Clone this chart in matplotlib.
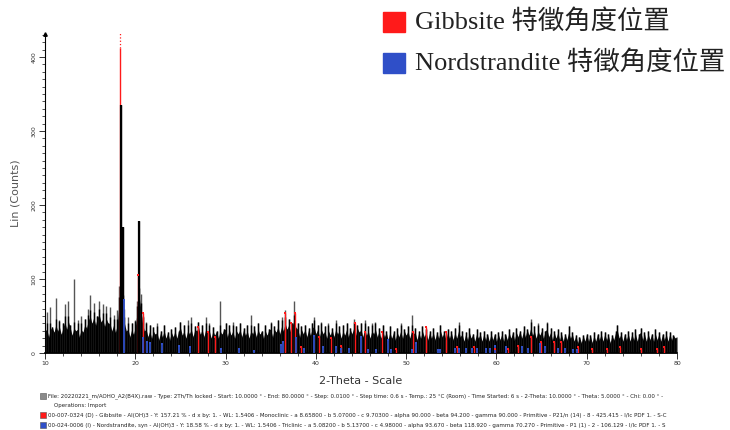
import numpy as np
import matplotlib
matplotlib.use("Agg")
import matplotlib.pyplot as plt
from matplotlib.transforms import Bbox, TransformedBbox

# Datos del difractograma, paso de 0.2 grados (10 a 80)
two_theta = np.round(np.arange(10.0, 80.0001, 0.2), 1)
counts = [
    30, 55, 22, 62, 35, 28, 74, 30, 45, 25, 40, 66, 32, 70, 38, 24, 100, 30, 44, 22, 50, 28, 46, 34, 60,   # 10
    78, 40, 68, 38, 50, 70, 42, 66, 36, 64, 40, 62, 30, 52, 28, 58, 90, 335, 170, 60, 30, 48, 22, 40, 25,  # 15
    45, 70, 178, 80, 50, 30, 42, 22, 38, 20, 35, 25, 40, 18, 30, 22, 38, 20, 28, 18, 32, 22, 35, 20, 30,  # 20
    42, 24, 38, 20, 45, 26, 48, 22, 36, 30, 42, 25, 38, 22, 48, 28, 40, 20, 35, 24, 30, 20, 70, 25, 32,  # 25
    40, 22, 38, 24, 42, 20, 36, 26, 40, 22, 34, 24, 38, 20, 52, 26, 36, 22, 40, 25, 30, 20, 38, 24, 32,  # 30
    42, 22, 36, 28, 44, 26, 48, 30, 58, 32, 46, 28, 40, 70, 34, 40, 22, 36, 26, 38, 22, 34, 24, 40, 48,  # 35
    26, 38, 22, 42, 26, 36, 20, 40, 24, 34, 22, 44, 26, 36, 20, 38, 24, 40, 22, 34, 26, 46, 24, 38, 28,  # 40
    40, 22, 44, 24, 36, 20, 40, 26, 42, 22, 34, 20, 38, 22, 30, 18, 36, 20, 30, 18, 34, 22, 40, 20, 32,  # 45
    24, 36, 20, 51, 26, 34, 18, 30, 20, 36, 22, 32, 18, 30, 20, 34, 18, 28, 20, 38, 22, 30, 18, 32, 20,  # 50
    30, 18, 34, 20, 42, 22, 30, 16, 28, 18, 34, 20, 26, 16, 32, 20, 28, 16, 30, 18, 26, 16, 30, 18, 26,  # 55
    16, 28, 18, 30, 16, 26, 18, 32, 20, 28, 18, 34, 22, 30, 20, 36, 22, 32, 24, 46, 24, 36, 20, 40, 24,  # 60
    34, 20, 30, 42, 22, 34, 18, 30, 20, 32, 18, 28, 16, 26, 18, 36, 20, 28, 16, 24, 14, 22, 14, 24, 16,  # 65
    26, 16, 24, 14, 28, 16, 26, 18, 30, 16, 28, 18, 26, 14, 24, 18, 30, 38, 20, 28, 16, 26, 18, 30, 16,  # 70
    28, 18, 32, 16, 26, 34, 18, 28, 16, 30, 18, 26, 16, 32, 18, 28, 16, 26, 18, 30, 16, 28, 18, 24, 20,  # 75
    22,
]

# Lineas de referencia (posicion 2-theta, altura)
gib_pos = [18.3, 20.3, 20.8, 26.9, 28.0, 28.8, 36.6, 37.2, 37.7, 38.4, 40.3, 41.7, 42.8, 44.3, 45.4,
           47.3, 48.9, 50.8, 52.2, 54.4, 55.6, 57.5, 59.8, 61.3, 62.4, 63.8, 64.9, 66.4, 67.1, 69.0,
           70.6, 72.3, 73.7, 76.0, 77.8, 78.6]
gib_int = [412, 105, 54, 35, 28, 22, 54, 41, 54, 8, 22, 20, 10, 41, 28,
           28, 6, 28, 35, 28, 8, 8, 6, 6, 10, 22, 15, 15, 15, 8,
           5, 6, 8, 6, 5, 8]
nor_pos = [18.7, 20.8, 21.3, 21.6, 23.0, 24.8, 26.1, 29.5, 31.5, 33.1, 36.1, 36.4, 37.8, 38.7, 39.8,
           40.8, 42.2, 42.8, 43.7, 45.0, 45.8, 46.7, 48.0, 48.3, 50.6, 51.1, 53.5, 53.8, 55.4, 55.8,
           56.6, 57.3, 57.8, 58.9, 59.3, 59.8, 61.1, 62.8, 63.5, 64.8, 65.4, 66.8, 67.6, 68.5, 68.9]
nor_int = [72, 20, 15, 14, 12, 9, 8, 5, 5, 3, 11, 15, 20, 5, 23,
           8, 8, 5, 5, 22, 4, 4, 18, 4, 4, 13, 4, 4, 5, 5,
           5, 5, 6, 6, 5, 10, 8, 8, 5, 12, 8, 6, 5, 4, 4]

info_lines = [
    "File: 20220221_m/AOHO_A2(B4X).raw - Type: 2Th/Th locked - Start: 10.0000 \u00b0 - End: 80.0000 \u00b0 - Step: 0.0100 \u00b0 - Step time: 0.6 s - Temp.: 25 \u00b0C (Room) - Time Started: 6 s - 2-Theta: 10.0000 \u00b0 - Theta: 5.0000 \u00b0 - Chi: 0.00 \u00b0 -",
    "Operations: Import",
    "00-007-0324 (D) - Gibbsite - Al(OH)3 - Y: 157.21 % - d x by: 1. - WL: 1.5406 - Monoclinic - a 8.65800 - b 5.07000 - c 9.70300 - alpha 90.000 - beta 94.200 - gamma 90.000 - Primitive - P21/n (14) - 8 - 425.415 - I/Ic PDF 1. - S-C",
    "00-024-0006 (I) - Nordstrandite, syn - Al(OH)3 - Y: 18.58 % - d x by: 1. - WL: 1.5406 - Triclinic - a 5.08200 - b 5.13700 - c 4.98000 - alpha 93.670 - beta 118.920 - gamma 70.270 - Primitive - P1 (1) - 2 - 106.129 - I/Ic PDF 1. - S",
]
legend_labels = ["Gibbsite \u7279\u5fb5\u89d2\u5ea6\u4f4d\u7f6e", "Nordstrandite \u7279\u5fb5\u89d2\u5ea6\u4f4d\u7f6e"]

RED = "#ff1a1a"
BLUE = "#2f4fc8"

fig = plt.figure(figsize=(7.3, 4.3), dpi=100)
ax = fig.add_axes([45 / 730, 1 - 353 / 430, 632 / 730, 319 / 430])

# patron medido: base negra (minimo local) y picos como trazos verticales grises
c = np.array(counts, dtype=float)
base = np.minimum(c, np.minimum(np.roll(c, 1), np.roll(c, -1)) + 10)
ax.fill_between(two_theta, base, color="black", lw=0, zorder=2)
ax.vlines(two_theta, 0, c, color="#555555", lw=1.0, zorder=2)
ax.vlines(two_theta, 0, np.minimum(c, base + 8), color="black", lw=1.0, zorder=2)

# lineas Gibbsite
ax.vlines(gib_pos, 0, gib_int, color=RED, lw=1.0, zorder=3)
ax.plot(gib_pos[1:], gib_int[1:], "s", color=RED, ms=2.0, mew=0, zorder=4)
ax.plot([gib_pos[0], gib_pos[0]], [gib_int[0], 432], ":", color=RED, lw=0.9, zorder=3)
ax.plot(gib_pos[0], 432, "s", color=RED, ms=2.0, mew=0, zorder=4)

# picos fuertes por encima de las lineas rojas
fuerte = c > 150
ax.vlines(two_theta[fuerte], 0, c[fuerte], color="black", lw=1.6, zorder=3.5)

# lineas Nordstrandite
ax.vlines(nor_pos, 0, nor_int, color=BLUE, lw=1.3, zorder=3.6)
ax.plot(nor_pos, nor_int, "s", color=BLUE, ms=1.6, mew=0, zorder=4)

ax.set_xlim(10, 80)
ax.set_ylim(0, 431)
for s in ["top", "right"]:
    ax.spines[s].set_visible(False)
ax.spines["left"].set_linewidth(0.8)
ax.spines["bottom"].set_linewidth(1.2)
ax.plot(0, 1, "^k", ms=2.5, transform=ax.transAxes, clip_on=False)

ax.set_xticks(np.arange(10, 81, 10))
ax.set_xticks(np.arange(10, 81, 2), minor=True)
ax.set_yticks(np.arange(0, 401, 100))
ax.set_yticks(np.arange(0, 431, 10), minor=True)
ax.tick_params(axis="both", which="major", length=4, width=0.7, labelsize=4.5, colors="#333333", pad=2)
ax.tick_params(axis="both", which="minor", length=2, width=0.6, colors="#333333")
for lab in ax.get_yticklabels():
    lab.set_rotation(90)
    lab.set_va("center")

ax.set_ylabel("Lin (Counts)", fontsize=8, color="#555555", labelpad=8)
ax.set_xlabel("2-Theta - Scale", fontsize=8, color="#333333", labelpad=7)

# leyenda manual arriba a la derecha
for i, (lab, col) in enumerate(zip(legend_labels, [RED, BLUE])):
    yy = 1 - (22 + 41 * i) / 430
    fig.patches.append(plt.Rectangle((383 / 730, yy - 10 / 430), 22 / 730, 20 / 430,
                                     transform=fig.transFigure, color=col, figure=fig))
    fig.text(415 / 730, yy, lab, fontsize=19, va="center", ha="left", color="#222222",
             family=["Liberation Serif", "Noto Sans CJK TC"])

# bloque de informacion inferior
clip = TransformedBbox(Bbox([[0, 0], [668 / 730, 1]]), fig.transFigure)
icon_cols = ["#8a8a8a", None, RED, BLUE]
info_y = [396, 405, 415, 425]
for txt, yp, ic in zip(info_lines, info_y, icon_cols):
    x0 = 48 if ic is not None else 54
    t = fig.text(x0 / 730, 1 - yp / 430, txt, fontsize=4.0, va="center", ha="left", color="#222222")
    t.set_clip_box(clip)
    t.set_clip_on(True)
    if ic is not None:
        fig.patches.append(plt.Rectangle((40 / 730, 1 - (yp + 3) / 430), 6 / 730, 6 / 430,
                                         transform=fig.transFigure, facecolor=ic,
                                         edgecolor="#555555", lw=0.4, figure=fig))

fig.savefig("out.png", dpi=100)
